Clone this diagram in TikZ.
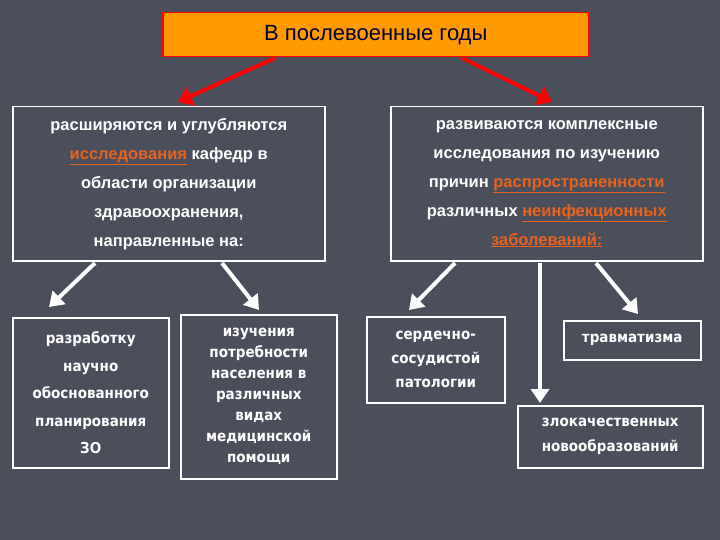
\documentclass[tikz,border=0pt]{standalone}
\usepackage{fontspec}
\setmainfont{Liberation Sans}
\newfontfamily\lowfont{DejaVu Sans Condensed}
\usetikzlibrary{arrows.meta}
\definecolor{bg}{HTML}{4B4F5C}
\definecolor{hl}{HTML}{E8641E}
\definecolor{tit}{HTML}{FF9A00}
\newcommand{\hlt}[1]{\textcolor{hl}{\underline{#1}}}
\tikzset{
  big/.style={draw=white, line width=1.5pt, text=white, font=\bfseries\fontsize{16.5}{29}\selectfont, align=center, anchor=north west, inner sep=0pt},
  small/.style={draw=white, line width=1.5pt, text=white, font=\lowfont\bfseries\fontsize{15}{21}\selectfont, align=center, anchor=north west, inner sep=0pt},
  redarr/.style={draw=red, line width=4pt, -{Triangle[length=14pt,width=20pt]}},
  whitearr/.style={draw=white, line width=4pt, -{Triangle[length=14pt,width=18pt]}}
}
\begin{document}
\begin{tikzpicture}[x=1pt,y=-1pt]
\fill[bg] (0,0) rectangle (720,540);
\useasboundingbox (0,0) rectangle (720,540);
\node[draw=red, line width=1.5pt, fill=tit, minimum width=426pt, minimum height=44pt, anchor=north west, inner sep=0pt, font=\fontsize{22}{24}\selectfont, text=black!80!blue] (t) at (162,12) {В послевоенные годы};
\node[big, minimum width=312pt, minimum height=154pt] (L) at (12,106) {расширяются и углубляются\\ \hlt{исследования} кафедр в\\ области организации\\ здравоохранения,\\ направленные на:};
\node[big, minimum width=312pt, minimum height=154pt] (R) at (390,106) {развиваются комплексные\\ исследования по изучению\\ причин \hlt{распространенности}\\ различных \hlt{неинфекционных}\\ \hlt{заболеваний:}};
\node[small, minimum width=156pt, minimum height=150pt, font=\lowfont\bfseries\fontsize{15}{27.5}\selectfont] (b1) at (12,317) {разработку\\ научно\\ обоснованного\\ планирования\\ ЗО};
\node[small, minimum width=156pt, minimum height=164pt] (b2) at (180,314) {изучения\\ потребности\\ населения в\\ различных\\ видах\\ медицинской\\ помощи};
\node[small, minimum width=138pt, minimum height=86pt, font=\lowfont\bfseries\fontsize{15}{24}\selectfont] (b3) at (366,316) {сердечно-\\ сосудистой\\ патологии};
\node[small, minimum width=137pt, minimum height=39pt] (b4) at (563,320) {травматизма};
\node[small, minimum width=185pt, minimum height=62pt, font=\lowfont\bfseries\fontsize{15}{25}\selectfont] (b5) at (517,405) {злокачественных\\ новообразований};
\coordinate (r1) at (275,58); \coordinate (r1e) at (178,102);
\coordinate (r2) at (462,58); \coordinate (r2e) at (552,102);
\draw[redarr] (r1) -- (r1e);
\draw[redarr] (r2) -- (r2e);
\coordinate (w1) at (95,263); \coordinate (w1e) at (49,307);
\coordinate (w2) at (222,263); \coordinate (w2e) at (259,310);
\coordinate (w3) at (455,263); \coordinate (w3e) at (409,310);
\coordinate (w4) at (540,263); \coordinate (w4e) at (540,403);
\coordinate (w5) at (596,263); \coordinate (w5e) at (638,314);
\foreach \a in {1,...,5} \draw[whitearr] (w\a) -- (w\a e);
\end{tikzpicture}
\end{document}
